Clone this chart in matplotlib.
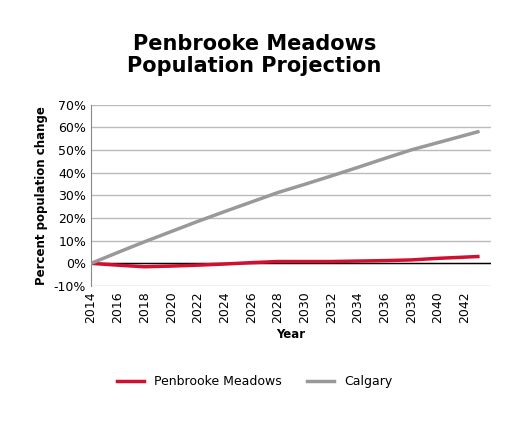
import matplotlib
matplotlib.use("Agg")
import matplotlib.pyplot as plt
from matplotlib.ticker import FuncFormatter

years = [2014, 2016, 2018, 2020, 2022, 2024, 2026, 2028, 2030, 2032, 2034, 2036, 2038, 2040, 2043]
penbrooke = [0.0, -0.8, -1.5, -1.2, -0.8, -0.3, 0.3, 0.8, 0.8, 0.8, 1.0, 1.2, 1.5, 2.2, 3.0]
calgary = [0.0, 4.8, 9.5, 14.0, 18.5, 22.8, 27.0, 31.2, 34.8, 38.5, 42.3, 46.2, 50.0, 53.2, 58.0]
xticks = list(range(2014, 2043, 2))

fig = plt.figure(figsize=(5.09, 4.25), dpi=100)
ax = fig.add_axes([0.179, 0.327, 0.786, 0.427])
ax.plot(years, penbrooke, color="#d0102e", lw=2.5, label="Penbrooke Meadows", zorder=3)
ax.plot(years, calgary, color="#999999", lw=2.5, label="Calgary", zorder=3)
ax.axhline(0, color="black", lw=1)
ax.set_ylim(-10, 70)
ax.set_xlim(2014, 2044)
ax.set_yticks(range(-10, 71, 10))
ax.yaxis.set_major_formatter(FuncFormatter(lambda v, p: f"{v:.0f}%"))
ax.set_xticks(xticks)
ax.set_xticklabels([str(x) for x in xticks], rotation=90)
ax.grid(axis="y", color="#bbbbbb", lw=1)
ax.set_axisbelow(True)
for s in ["top", "right", "bottom"]:
    ax.spines[s].set_visible(False)
ax.spines["left"].set_color("#888888")
ax.tick_params(length=0, labelsize=9)
ax.set_ylabel("Percent population change", fontsize=8.5, fontweight="bold")
ax.set_xlabel("Year", fontsize=8.5, fontweight="bold")
fig.suptitle("Penbrooke Meadows\nPopulation Projection", fontsize=15, fontweight="bold", y=0.92, linespacing=1.1)
fig.legend(loc="lower center", ncol=2, frameon=False, fontsize=9, bbox_to_anchor=(0.5, 0.06), handlelength=2.2)
fig.savefig("out.png", dpi=100)
